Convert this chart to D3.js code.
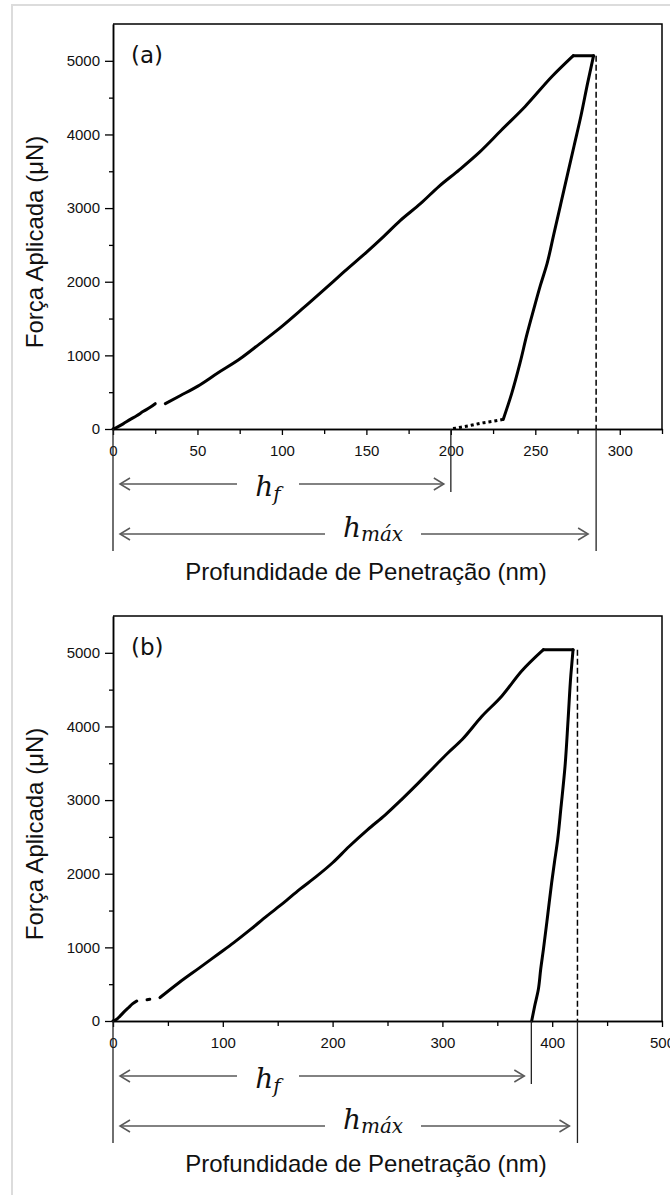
<!DOCTYPE html>
<html>
<head>
<meta charset="utf-8">
<script src="https://cdn.jsdelivr.net/npm/d3@7"></script>
<style>
  body { margin: 0; background: #fff; }
</style>
</head>
<body>
<div id="chart"></div>
<script>
// Force scale shared by both panels (μN)
const forceMax = 5500
const forceMajor = [0, 1000, 2000, 3000, 4000, 5000]
const forceMinor = [500, 1500, 2500, 3500, 4500]

// (a) depth (nm) / force (μN)
const depthA1 = [0, 2, 6, 10, 14, 18, 22, 25]
const forceA1 = [0, 20, 70, 127, 180, 240, 295, 344]
// loading up to maximum force
const depthALoad = [31, 40, 50, 62, 75, 87, 100, 112, 125, 137, 150, 160, 170, 182, 193, 205, 217, 230, 244, 260, 272.5]
const forceALoad = [345, 455, 579, 760, 950, 1160, 1394, 1630, 1893, 2140, 2400, 2610, 2830, 3060, 3296, 3520, 3760, 4060, 4380, 4790, 5070]
// hold at maximum force
const depthAHold = [272.5, 284.5]
const forceAHold = [5070, 5070]
const depthAUnload = [284.5, 281, 277, 273, 269, 265, 261, 257, 253, 249, 245, 241, 236, 231]
const forceAUnload = [5070, 4700, 4250, 3850, 3450, 3050, 2650, 2250, 1950, 1620, 1280, 900, 480, 130]
const depthATail = [231, 225, 218, 212, 206, 200]
const forceATail = [130, 105, 80, 50, 25, 0]
const depthTicksA = [0, 50, 100, 150, 200, 250, 300]
const depthMinorA = [25, 75, 125, 175, 225, 275, 325]
const hfA = 200, hmaxA = 286, fmaxA = 5070

// (b) depth (nm) / force (μN)
const depthB1 = [0, 3, 6, 9.4, 14, 18, 21.6]
const forceB1 = [0, 20, 60, 114, 180, 235, 271]
const depthB2 = [31, 33.5]
const forceB2 = [288, 294]
const depthBLoad = [42.8, 60, 79, 95, 110, 125, 140, 155, 170, 185, 200, 215, 232, 248, 263, 278, 293, 305, 318, 336, 354, 372, 392]
const forceBLoad = [318, 520, 725, 900, 1064, 1240, 1425, 1600, 1787, 1960, 2149, 2370, 2600, 2800, 3010, 3230, 3460, 3640, 3822, 4138, 4410, 4749, 5043]
const depthBHold = [392, 419]
const forceBHold = [5043, 5043]
const depthBUnload = [419, 417, 414.5, 411.7, 408, 405, 402, 399.5, 396, 392, 389.5, 387.4, 384, 381.3]
const forceBUnload = [5043, 4700, 4100, 3460, 2900, 2465, 2150, 1878, 1450, 973, 700, 430, 200, 0]
const depthTicksB = [0, 100, 200, 300, 400, 500]
const depthMinorB = [50, 150, 250, 350, 450]
const hfB = 381, hmaxB = 423, fmaxB = 5043

const W = 670, H = 1195
const plotLeft = 113, plotRight = 662, plotH = 405
const font = '"Liberation Sans", Arial, sans-serif'
const mathFont = '"DejaVu Serif", serif'
const arrowGray = '#595959'

const zip = (xs, ys) => xs.map((d, i) => [d, ys[i]])

const svg = d3.select('#chart')
  .append('svg')
  .attr('width', W)
  .attr('height', H)

// light page border
svg.append('path')
  .attr('d', 'M12,' + H + 'V5H' + W)
  .attr('fill', 'none')
  .attr('stroke', '#dcdcdc')
  .attr('stroke-width', 2)

const styleAxis = (g, size) => {
  g.select('.domain').attr('stroke', '#000').attr('stroke-width', 1.5)
  g.selectAll('.tick line').attr('stroke', '#000').attr('stroke-width', 1.3)
  g.selectAll('.tick text')
    .attr('fill', '#111')
    .attr('font-family', font)
    .attr('font-size', size)
}

const drawPanel = (p) => {
  const g = svg.append('g').attr('transform', 'translate(0,' + p.top + ')')

  const x = d3.scaleLinear().domain([0, p.depthMax]).range([plotLeft, plotRight])
  const y = d3.scaleLinear().domain([0, forceMax]).range([plotH, 0])

  // minor ticks first, then labelled axes on top
  g.append('g')
    .attr('transform', 'translate(0,' + plotH + ')')
    .call(d3.axisBottom(x).tickValues(p.minor).tickSize(5).tickSizeOuter(0).tickFormat(''))
    .call(a => styleAxis(a, 15))
  g.append('g')
    .attr('transform', 'translate(' + plotLeft + ',0)')
    .call(d3.axisLeft(y).tickValues(forceMinor).tickSize(4).tickSizeOuter(0).tickFormat(''))
    .call(a => styleAxis(a, 15))

  g.append('g')
    .attr('transform', 'translate(0,' + plotH + ')')
    .call(d3.axisBottom(x).tickValues(p.major).tickSize(6).tickPadding(10).tickSizeOuter(0).tickFormat(d3.format('d')))
    .call(a => styleAxis(a, 15))
  g.append('g')
    .attr('transform', 'translate(' + plotLeft + ',0)')
    .call(d3.axisLeft(y).tickValues(forceMajor).tickSize(8).tickPadding(5).tickSizeOuter(0).tickFormat(d3.format('d')))
    .call(a => styleAxis(a, 15))

  // top and right frame
  g.append('path')
    .attr('d', 'M' + plotLeft + ',0H' + plotRight + 'V' + plotH)
    .attr('fill', 'none')
    .attr('stroke', '#000')
    .attr('stroke-width', 1.5)

  // dashed marker at maximum depth
  g.append('line')
    .attr('x1', x(p.hmax)).attr('x2', x(p.hmax))
    .attr('y1', y(p.fmax)).attr('y2', plotH)
    .attr('stroke', '#000')
    .attr('stroke-width', 1.5)
    .attr('stroke-dasharray', '6,3')

  const lineX = d3.line().x(d => x(d[0])).y(d => y(d[1])).curve(d3.curveMonotoneX)
  const lineY = d3.line().x(d => x(d[0])).y(d => y(d[1])).curve(d3.curveMonotoneY)

  p.curves.forEach(c => {
    // unloading branches are smoothed along force, drawn bottom-up
    const pts = c.byForce ? c.pts.slice().sort((a, b) => a[1] - b[1]) : c.pts
    g.append('path')
      .datum(pts)
      .attr('d', c.byForce ? lineY : lineX)
      .attr('fill', 'none')
      .attr('stroke', '#000')
      .attr('stroke-width', 3)
      .attr('stroke-linejoin', 'round')
      .attr('stroke-linecap', c.dash ? 'butt' : 'round')
      .attr('stroke-dasharray', c.dash || null)
  })

  // panel letter
  g.append('text')
    .attr('x', 131)
    .attr('y', 39)
    .attr('font-family', '"DejaVu Sans", sans-serif')
    .attr('font-size', 23)
    .attr('fill', '#111')
    .text(p.label)

  // axis titles
  g.append('text')
    .attr('transform', 'translate(43,' + 218 + ') rotate(-90)')
    .attr('text-anchor', 'middle')
    .attr('font-family', font)
    .attr('font-size', 24)
    .attr('fill', '#111')
    .text('Força Aplicada (μN)')

  g.append('text')
    .attr('x', 366)
    .attr('y', plotH + 151)
    .attr('text-anchor', 'middle')
    .attr('font-family', font)
    .attr('font-size', 24)
    .attr('fill', '#111')
    .text('Profundidade de Penetração (nm)')

  // h_f and h_max dimension lines
  const x0 = x(0), xf = x(p.hf), xm = x(p.hmax)
  const ann = g.append('g')
  const vline = (xv, len) => ann.append('line')
    .attr('x1', xv).attr('x2', xv)
    .attr('y1', plotH).attr('y2', plotH + len)
    .attr('stroke', '#222')
    .attr('stroke-width', 1.3)
  vline(x0, 122)
  vline(xf, 63)
  vline(xm, 122)

  const arrow = (ya, left, right, cx, gap) => {
    const a = ann.append('g')
      .attr('stroke', arrowGray)
      .attr('stroke-width', 1.5)
      .attr('fill', 'none')
    a.append('path').attr('d', 'M' + left + ',' + ya + 'H' + (cx - gap))
    a.append('path').attr('d', 'M' + (cx + gap) + ',' + ya + 'H' + right)
    a.append('path').attr('d', 'M' + (left + 10) + ',' + (ya - 6) + 'L' + left + ',' + ya + 'L' + (left + 10) + ',' + (ya + 6))
    a.append('path').attr('d', 'M' + (right - 10) + ',' + (ya - 6) + 'L' + right + ',' + ya + 'L' + (right - 10) + ',' + (ya + 6))
  }

  const yf = plotH + 55, ym = plotH + 105
  const cf = x0 + 155, cm = x0 + 260
  arrow(yf, x0 + 7, xf - 7, cf, 31)
  arrow(ym, x0 + 7, xm - 8, cm, 48)

  const hf = ann.append('text')
    .attr('x', cf)
    .attr('y', yf + 12)
    .attr('text-anchor', 'middle')
    .attr('font-family', mathFont)
    .attr('font-style', 'italic')
    .attr('font-size', 28)
    .attr('fill', '#111')
  hf.append('tspan').text('h')
  hf.append('tspan').attr('font-size', 20).attr('dy', 5).text('f')

  const hm = ann.append('text')
    .attr('x', cm)
    .attr('y', ym + 3)
    .attr('text-anchor', 'middle')
    .attr('font-family', mathFont)
    .attr('font-style', 'italic')
    .attr('font-size', 28)
    .attr('fill', '#111')
  hm.append('tspan').text('h')
  hm.append('tspan').attr('font-size', 20).attr('dy', 4).text('máx')
}

drawPanel({
  top: 24,
  label: '(a)',
  depthMax: 325,
  major: depthTicksA,
  minor: depthMinorA,
  hf: hfA, hmax: hmaxA, fmax: fmaxA,
  curves: [
    {pts: zip(depthA1, forceA1)},
    {pts: zip(depthALoad, forceALoad)},
    {pts: zip(depthAHold, forceAHold)},
    {pts: zip(depthAUnload, forceAUnload), byForce: true},
    {pts: zip(depthATail, forceATail), dash: '3,3'}
  ]
})

drawPanel({
  top: 616,
  label: '(b)',
  depthMax: 500,
  major: depthTicksB,
  minor: depthMinorB,
  hf: hfB, hmax: hmaxB, fmax: fmaxB,
  curves: [
    {pts: zip(depthB1, forceB1)},
    {pts: zip(depthB2, forceB2)},
    {pts: zip(depthBLoad, forceBLoad)},
    {pts: zip(depthBHold, forceBHold)},
    {pts: zip(depthBUnload, forceBUnload), byForce: true}
  ]
})
</script>
</body>
</html>
